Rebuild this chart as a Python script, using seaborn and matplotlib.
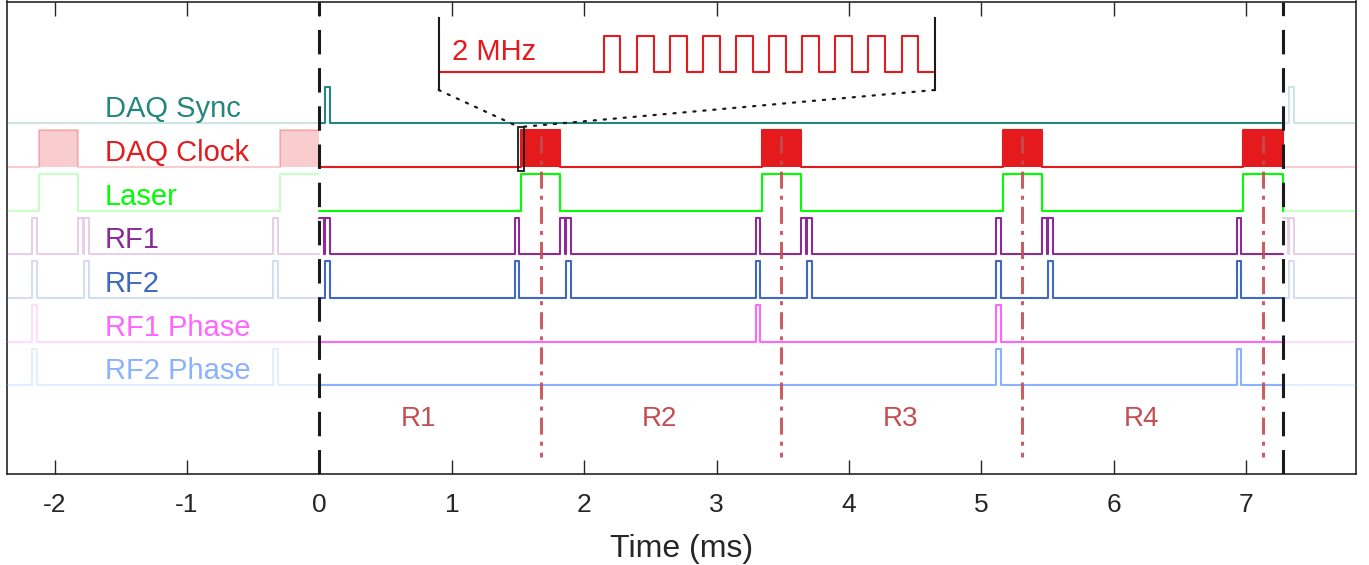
import seaborn as sns
import matplotlib.pyplot as plt
from matplotlib.patches import Rectangle, ConnectionPatch

# one full sequence period (ms) and visible window
PERIOD = 7.28
T_MIN, T_MAX = -2.36, 7.83

# channel names and colours, top to bottom
channels = ['DAQ Sync', 'DAQ Clock', 'Laser', 'RF1', 'RF2', 'RF1 Phase', 'RF2 Phase']
colors = ['#23877D', '#E41A1C', '#00FF00', '#8B2B96', '#3F68C5', '#FF66FF', '#8CB2FF']

# pulse start times (ms) inside one period
daq_sync_start = [0.045]
daq_clock_start = [1.52, 3.34, 5.16, 6.98]
laser_start = [1.52, 3.34, 5.16, 6.98]
rf1_start = [0.0, 0.045, 1.474, 1.82, 1.865, 3.294, 3.64, 3.685, 5.112, 5.46, 5.505, 6.932]
rf2_start = [0.045, 1.474, 1.865, 3.294, 3.685, 5.112, 5.505, 6.932]
rf1_phase_start = [3.294, 5.112]
rf2_phase_start = [5.112, 6.932]

# pulse widths (ms)
pulse_width = 0.033
window_width = 0.30
widths = [pulse_width, window_width, window_width, pulse_width, pulse_width, pulse_width, pulse_width]
starts = [daq_sync_start, daq_clock_start, laser_start, rf1_start, rf2_start, rf1_phase_start, rf2_phase_start]

# readout markers and region labels
readout_times = [1.67, 3.49, 5.31, 7.13]
region_labels = ['R1', 'R2', 'R3', 'R4']
region_centers = [0.75, 2.57, 4.39, 6.21]

# zoomed clock (inset), in microseconds
clock_rise_us = [2.5, 3.0, 3.5, 4.0, 4.5, 5.0, 5.5, 6.0, 6.5, 7.0]
clock_high_us = 0.25
inset_span_us = 7.5


def step_trace(pulse_starts, width, shift, lo, hi):
    edges = []
    for s in pulse_starts:
        edges += [s + shift, s + shift + width]

    def level(x):
        return int(any(s + shift <= x < s + shift + width for s in pulse_starts))

    ts = [lo] + sorted(e for e in edges if lo < e < hi) + [hi]
    return ts, [level(x) for x in ts]


sns.set_theme(style='ticks')
plt.rcParams['font.family'] = ['Liberation Sans', 'DejaVu Sans']
plt.rcParams['axes.unicode_minus'] = False
ink = '#262626'

fig = plt.figure(figsize=(13.69, 5.65), dpi=100)
ax = fig.add_axes([7 / 1369, 1 - 474 / 565, (1356 - 7) / 1369, (474 - 1.5) / 565])

height = 0.84
segments = [(0, PERIOD, 0.0, 1.0), (T_MIN, 0, -PERIOD, 0.22), (PERIOD, T_MAX, PERIOD, 0.22)]

for i, (name, col) in enumerate(zip(channels, colors)):
    base = 6 - i
    for lo, hi, shift, alpha in segments:
        ts, lv = step_trace(starts[i], widths[i], shift, lo, hi)
        ys = [base + height * v for v in lv]
        if name == 'DAQ Clock':
            ax.fill_between(ts, base, ys, step='post', color=col,
                            alpha=alpha if alpha < 1 else 1.0, linewidth=0, zorder=2)
        sns.lineplot(x=ts, y=ys, drawstyle='steps-post', estimator=None, sort=False,
                     color=col, alpha=alpha, lw=1.5, ax=ax, zorder=3)
    ax.text(-1.62, base + 0.14, name, color=col, fontsize=21, va='baseline', ha='left')

# readout markers
for t in readout_times:
    ax.plot([t, t], [5.7, -1.63], color='#C44E52', lw=2.2, alpha=0.9,
            dashes=(5.6, 2.3, 1.3, 2.3), zorder=4)
for lab, t in zip(region_labels, region_centers):
    ax.text(t, -0.76, lab, color='#C44E52', fontsize=20, ha='center', va='center')

# period boundaries
for t in [0, PERIOD]:
    ax.axvline(t, color='k', lw=2.2, dashes=(8, 4.5), zorder=5)

# zoom box on the clock start
ax.add_patch(Rectangle((1.502, 4.903), 0.045, 1.021, fill=False, ec='k', lw=1.3, zorder=6))

ax.set_xlim(T_MIN, T_MAX)
ax.set_ylim(-2.03, 8.79)
ax.set_yticks([])
ax.set_xticks(range(-2, 8))
ax.tick_params(axis='x', direction='in', length=10, width=1.0, top=True,
               labelsize=19, pad=14, colors=ink)
for sp in ax.spines.values():
    sp.set_visible(True)
    sp.set_color(ink)
    sp.set_linewidth(1.2)
ax.set_xlabel('Time (ms)', fontsize=23, color=ink, labelpad=12)

# inset showing the 2 MHz clock
ins = fig.add_axes([438.6 / 1369, 1 - 90 / 565, (934.6 - 438.6) / 1369, 72 / 565])
ins.patch.set_alpha(0)
ts, lv = step_trace(clock_rise_us, clock_high_us, 0.0, 0.0, inset_span_us)
sns.lineplot(x=ts, y=lv, drawstyle='steps-post', estimator=None, sort=False,
             color='#E41A1C', lw=1.5, ax=ins)
ins.text(0.2, 0.56, '2 MHz', color='#E41A1C', fontsize=21, va='center', ha='left')
ins.set_xlim(0, inset_span_us)
ins.set_ylim(-0.5, 1.5)
ins.set_xticks([])
ins.set_yticks([])
for side in ['top', 'bottom']:
    ins.spines[side].set_visible(False)
for side in ['left', 'right']:
    ins.spines[side].set_color('k')
    ins.spines[side].set_linewidth(1.5)

for corner, tx in [((0, 0), 1.502), ((1, 0), 1.547)]:
    cp = ConnectionPatch(xyA=corner, coordsA=ins.transAxes, xyB=(tx, 5.924),
                         coordsB=ax.transData, color='k', lw=1.6, linestyle=(0, (1, 3.5)))
    fig.add_artist(cp)

fig.savefig('out.png', dpi=100)
